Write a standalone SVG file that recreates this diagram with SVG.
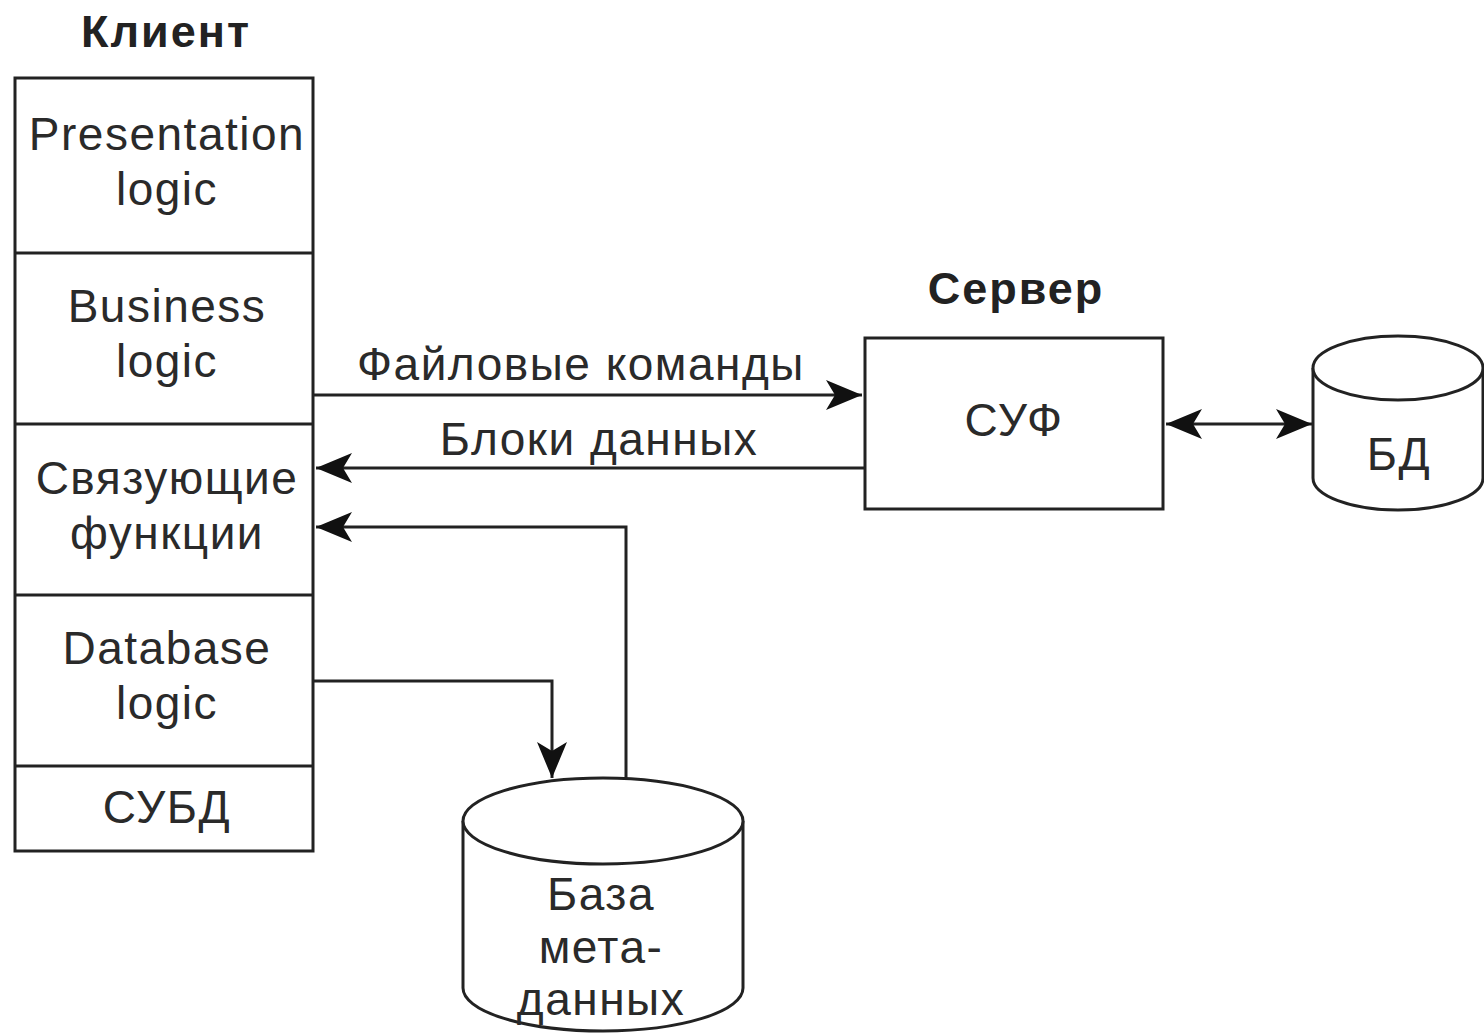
<svg xmlns="http://www.w3.org/2000/svg" width="1484" height="1035" viewBox="0 0 1484 1035">
<style>
.box{fill:#fff;stroke:#222;stroke-width:3}
.ln{fill:none;stroke:#222;stroke-width:3}
.t{font-family:"Liberation Sans",Arial,sans-serif;font-size:46px;letter-spacing:1.5px;fill:#2a2a2a;text-anchor:middle}
.h{font-family:"Liberation Sans",Arial,sans-serif;font-size:45px;letter-spacing:2px;font-weight:bold;fill:#222;text-anchor:middle}
</style>
<defs>
<marker id="ah" viewBox="0 0 36 30" refX="36" refY="15" markerWidth="36" markerHeight="30" markerUnits="userSpaceOnUse" orient="auto-start-reverse">
<path d="M0,0 L36,15 L0,30 L9,15 Z" fill="#111"/>
</marker>
</defs>
<rect width="1484" height="1035" fill="#fff"/>
<g id="client">
<text class="h" x="166" y="47">Клиент</text>
<rect class="box" x="15" y="78" width="298" height="773"/>
<line class="ln" x1="15" y1="253" x2="313" y2="253"/>
<line class="ln" x1="15" y1="424" x2="313" y2="424"/>
<line class="ln" x1="15" y1="595" x2="313" y2="595"/>
<line class="ln" x1="15" y1="766" x2="313" y2="766"/>
<text class="t" x="167" y="150">Presentation</text>
<text class="t" x="167" y="205">logic</text>
<text class="t" x="167" y="322">Business</text>
<text class="t" x="167" y="377">logic</text>
<text class="t" x="167" y="494">Связующие</text>
<text class="t" x="167" y="549">функции</text>
<text class="t" x="167" y="664">Database</text>
<text class="t" x="167" y="719">logic</text>
<text class="t" x="167" y="823">СУБД</text>
</g>
<g id="server">
<text class="h" x="1016" y="304">Сервер</text>
<rect class="box" x="865" y="338" width="298" height="171"/>
<text class="t" x="1014" y="436">СУФ</text>
</g>
<g id="db">
<path class="box" d="M1313,368 L1313,478 A85,32 0 0 0 1483,478 L1483,368"/>
<ellipse class="box" cx="1398" cy="368" rx="85" ry="32"/>
<text class="t" x="1399" y="470">БД</text>
</g>
<g id="metadb">
<path class="box" d="M463,821 L463,988 A140,43 0 0 0 743,988 L743,821"/>
<ellipse class="box" cx="603" cy="821" rx="140" ry="43"/>
<text class="t" x="601" y="910">База</text>
<text class="t" x="601" y="963">мета-</text>
<text class="t" x="601" y="1015">данных</text>
</g>
<g id="connectors">
<line class="ln" x1="313" y1="395" x2="862" y2="395" marker-end="url(#ah)"/>
<text class="t" x="581" y="380">Файловые команды</text>
<line class="ln" x1="865" y1="468" x2="316" y2="468" marker-end="url(#ah)"/>
<text class="t" x="599" y="455">Блоки данных</text>
<polyline class="ln" points="626,778 626,527 316,527" marker-end="url(#ah)"/>
<polyline class="ln" points="313,681 552,681 552,778" marker-end="url(#ah)"/>
<line class="ln" x1="1166" y1="424" x2="1312" y2="424" marker-start="url(#ah)" marker-end="url(#ah)"/>
</g>
</svg>
